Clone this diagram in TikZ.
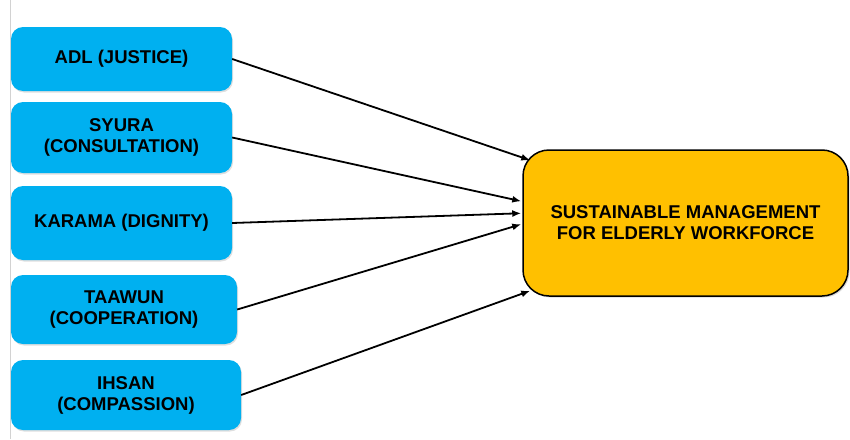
\documentclass[tikz,border=0pt]{standalone}
\usepackage{fontspec}
\setmainfont{Liberation Sans}
\usepackage{xcolor}
\usetikzlibrary{arrows.meta,positioning,calc,shadows}
\definecolor{vblue}{HTML}{00B0F0}
\definecolor{vgold}{HTML}{FFC000}
\definecolor{vdark}{HTML}{000000}

\begin{document}
\begin{tikzpicture}[x=1pt, y=-1pt,
  value/.style={fill=vblue, rounded corners=12pt, align=center, inner sep=0pt,
    font=\bfseries\fontsize{18.5}{21}\selectfont, text=vdark,
    drop shadow={opacity=0.25, shadow xshift=1pt, shadow yshift=-1.5pt}},
  goalbox/.style={fill=vgold, draw=vdark, line width=1.5pt, rounded corners=26pt,
    align=center, inner sep=0pt, font=\bfseries\fontsize{18.5}{21}\selectfont,
    drop shadow={opacity=0.3, shadow xshift=1.5pt, shadow yshift=-1.5pt}},
  link/.style={vdark, line width=1.8pt, -{Latex[length=9pt,width=7pt]}}]
  \useasboundingbox (0,0) rectangle (850,439);

  % Slide edge
  \draw[gray!35, line width=1pt] (10,0) -- (10,439);

  % Values
  \node[value, minimum width=221pt, minimum height=64pt] (adl) at (121.5,59) {ADL (JUSTICE)};
  \node[value, minimum width=221pt, minimum height=71pt] (syura) at (121.5,137.5) {SYURA\\(CONSULTATION)};
  \node[value, minimum width=221pt, minimum height=74pt] (karama) at (121.5,223) {KARAMA (DIGNITY)};
  \node[value, minimum width=226pt, minimum height=69pt] (taawun) at (124,309.5) {TAAWUN\\(COOPERATION)};
  \node[value, minimum width=230pt, minimum height=70pt] (ihsan) at (126,395) {IHSAN\\(COMPASSION)};

  % Outcome
  \node[goalbox, minimum width=325pt, minimum height=146pt] (goal) at (685.5,223)
    {SUSTAINABLE MANAGEMENT\\FOR ELDERLY WORKFORCE};

  % Links into the outcome
  \coordinate (g1) at ($(goal.north west)+(8,11)$);
  \coordinate (g2) at ($(goal.north west)+(-1,52)$);
  \coordinate (g3) at ($(goal.north west)+(-1,64)$);
  \coordinate (g4) at ($(goal.north west)+(-1,75)$);
  \coordinate (g5) at ($(goal.south west)+(8,-6)$);
  \draw[link] (adl.east) -- (g1);
  \draw[link] (syura.east) -- (g2);
  \draw[link] (karama.east) -- (g3);
  \draw[link] (taawun.east) -- (g4);
  \draw[link] (ihsan.east) -- (g5);
\end{tikzpicture}
\end{document}
